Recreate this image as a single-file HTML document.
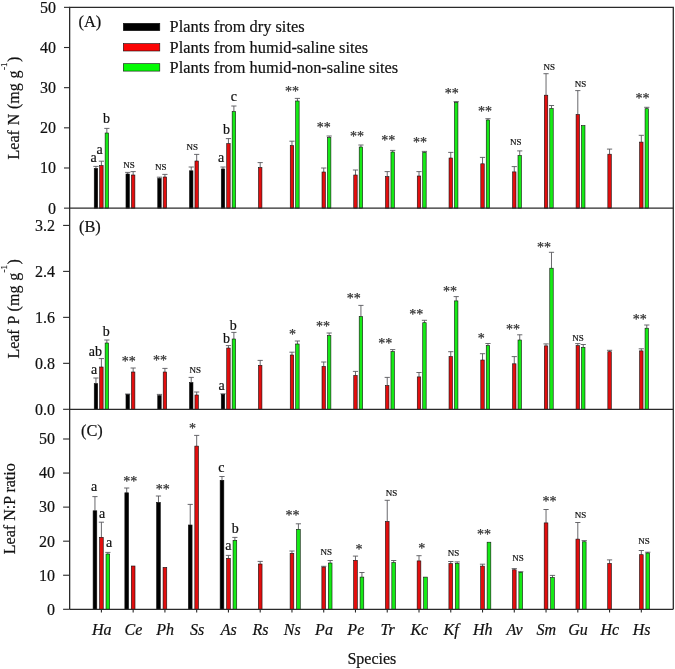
<!DOCTYPE html>
<html lang="en"><head><meta charset="utf-8"><title>Leaf N, P and N:P ratio by species</title>
<style>html,body{margin:0;padding:0;background:#fff}svg{display:block}text{font-family:"Liberation Serif","Times New Roman",serif;fill:#111;stroke:#111;stroke-width:.2}.t{font-size:16px}.lg{font-size:16.36px}.it{font-size:16px;font-style:italic}.l{font-size:14px}.n{font-size:9px}.s{font-size:14px;fill:#333;stroke:#333;stroke-width:.25}.ax{stroke:#2a2a2a;stroke-width:1.3;fill:none}.eb{stroke:#58585c;stroke-width:0.9;fill:none}.tk{stroke:#2a2a2a;stroke-width:1.1;fill:none}.b{stroke:#101010;stroke-width:0.6}</style></head><body>
<svg width="675" height="669" viewBox="0 0 675 669">
<rect width="675" height="669" fill="#fff"/>
<g id="panelA">
<path class="eb" d="M95.95 168.40V166.40M93.35 166.40H98.55"/>
<rect class="b" x="94.23" y="168.40" width="3.45" height="39.75" fill="#000000"/>
<path class="eb" d="M101.40 165.60V161.20M98.80 161.20H104.00"/>
<rect class="b" x="99.68" y="165.60" width="3.45" height="42.55" fill="#e20e0e"/>
<path class="eb" d="M106.85 133.00V128.40M104.25 128.40H109.45"/>
<rect class="b" x="105.13" y="133.00" width="3.45" height="75.15" fill="#16ea16"/>
<path class="eb" d="M127.71 174.00V172.40M125.11 172.40H130.31"/>
<rect class="b" x="125.98" y="174.00" width="3.45" height="34.15" fill="#000000"/>
<path class="eb" d="M133.16 175.00V171.60M130.56 171.60H135.76"/>
<rect class="b" x="131.44" y="175.00" width="3.45" height="33.15" fill="#e20e0e"/>
<path class="eb" d="M159.47 178.40V177.20M156.87 177.20H162.07"/>
<rect class="b" x="157.75" y="178.40" width="3.45" height="29.75" fill="#000000"/>
<path class="eb" d="M164.92 177.00V174.40M162.32 174.40H167.52"/>
<rect class="b" x="163.20" y="177.00" width="3.45" height="31.15" fill="#e20e0e"/>
<path class="eb" d="M191.23 170.80V167.00M188.63 167.00H193.83"/>
<rect class="b" x="189.51" y="170.80" width="3.45" height="37.35" fill="#000000"/>
<path class="eb" d="M196.68 161.00V154.40M194.08 154.40H199.28"/>
<rect class="b" x="194.96" y="161.00" width="3.45" height="47.15" fill="#e20e0e"/>
<path class="eb" d="M222.99 169.00V167.00M220.39 167.00H225.59"/>
<rect class="b" x="221.27" y="169.00" width="3.45" height="39.15" fill="#000000"/>
<path class="eb" d="M228.44 143.60V138.60M225.84 138.60H231.04"/>
<rect class="b" x="226.72" y="143.60" width="3.45" height="64.55" fill="#e20e0e"/>
<path class="eb" d="M233.89 111.60V106.00M231.29 106.00H236.49"/>
<rect class="b" x="232.16" y="111.60" width="3.45" height="96.55" fill="#16ea16"/>
<path class="eb" d="M260.20 167.60V162.60M257.60 162.60H262.80"/>
<rect class="b" x="258.48" y="167.60" width="3.45" height="40.55" fill="#e20e0e"/>
<path class="eb" d="M291.96 145.60V141.20M289.36 141.20H294.56"/>
<rect class="b" x="290.24" y="145.60" width="3.45" height="62.55" fill="#e20e0e"/>
<path class="eb" d="M297.41 101.00V98.40M294.81 98.40H300.01"/>
<rect class="b" x="295.69" y="101.00" width="3.45" height="107.15" fill="#16ea16"/>
<path class="eb" d="M323.72 172.00V168.00M321.12 168.00H326.32"/>
<rect class="b" x="322.00" y="172.00" width="3.45" height="36.15" fill="#e20e0e"/>
<path class="eb" d="M329.17 137.60V136.00M326.57 136.00H331.77"/>
<rect class="b" x="327.44" y="137.60" width="3.45" height="70.55" fill="#16ea16"/>
<path class="eb" d="M355.48 175.00V170.00M352.88 170.00H358.08"/>
<rect class="b" x="353.75" y="175.00" width="3.45" height="33.15" fill="#e20e0e"/>
<path class="eb" d="M360.93 147.00V145.00M358.33 145.00H363.53"/>
<rect class="b" x="359.20" y="147.00" width="3.45" height="61.15" fill="#16ea16"/>
<path class="eb" d="M387.24 176.60V171.60M384.64 171.60H389.84"/>
<rect class="b" x="385.51" y="176.60" width="3.45" height="31.55" fill="#e20e0e"/>
<path class="eb" d="M392.69 152.00V150.40M390.09 150.40H395.29"/>
<rect class="b" x="390.96" y="152.00" width="3.45" height="56.15" fill="#16ea16"/>
<path class="eb" d="M419.00 176.00V171.60M416.40 171.60H421.60"/>
<rect class="b" x="417.27" y="176.00" width="3.45" height="32.15" fill="#e20e0e"/>
<path class="eb" d="M424.45 152.40V151.40M421.85 151.40H427.05"/>
<rect class="b" x="422.72" y="152.40" width="3.45" height="55.75" fill="#16ea16"/>
<path class="eb" d="M450.76 158.00V152.40M448.16 152.40H453.36"/>
<rect class="b" x="449.03" y="158.00" width="3.45" height="50.15" fill="#e20e0e"/>
<path class="eb" d="M456.21 102.60V101.60M453.61 101.60H458.81"/>
<rect class="b" x="454.48" y="102.60" width="3.45" height="105.55" fill="#16ea16"/>
<path class="eb" d="M482.52 163.80V157.40M479.92 157.40H485.12"/>
<rect class="b" x="480.79" y="163.80" width="3.45" height="44.35" fill="#e20e0e"/>
<path class="eb" d="M487.97 120.00V118.70M485.37 118.70H490.57"/>
<rect class="b" x="486.24" y="120.00" width="3.45" height="88.15" fill="#16ea16"/>
<path class="eb" d="M514.28 171.90V166.60M511.68 166.60H516.88"/>
<rect class="b" x="512.55" y="171.90" width="3.45" height="36.25" fill="#e20e0e"/>
<path class="eb" d="M519.73 155.50V150.90M517.13 150.90H522.33"/>
<rect class="b" x="518.00" y="155.50" width="3.45" height="52.65" fill="#16ea16"/>
<path class="eb" d="M546.04 95.20V73.70M543.44 73.70H548.64"/>
<rect class="b" x="544.32" y="95.20" width="3.45" height="112.95" fill="#e20e0e"/>
<path class="eb" d="M551.49 108.50V105.50M548.89 105.50H554.09"/>
<rect class="b" x="549.77" y="108.50" width="3.45" height="99.65" fill="#16ea16"/>
<path class="eb" d="M577.80 114.50V90.60M575.20 90.60H580.40"/>
<rect class="b" x="576.08" y="114.50" width="3.45" height="93.65" fill="#e20e0e"/>
<rect class="b" x="581.53" y="125.60" width="3.45" height="82.55" fill="#16ea16"/>
<path class="eb" d="M609.56 154.20V149.10M606.96 149.10H612.16"/>
<rect class="b" x="607.84" y="154.20" width="3.45" height="53.95" fill="#e20e0e"/>
<path class="eb" d="M641.32 142.10V135.30M638.72 135.30H643.92"/>
<rect class="b" x="639.60" y="142.10" width="3.45" height="66.05" fill="#e20e0e"/>
<path class="eb" d="M646.77 108.70V107.30M644.17 107.30H649.37"/>
<rect class="b" x="645.05" y="108.70" width="3.45" height="99.45" fill="#16ea16"/>
</g>
<g id="panelB">
<path class="eb" d="M95.95 383.60V378.00M93.35 378.00H98.55"/>
<rect class="b" x="94.23" y="383.60" width="3.45" height="25.70" fill="#000000"/>
<path class="eb" d="M101.40 367.00V358.60M98.80 358.60H104.00"/>
<rect class="b" x="99.68" y="367.00" width="3.45" height="42.30" fill="#e20e0e"/>
<path class="eb" d="M106.85 343.00V340.00M104.25 340.00H109.45"/>
<rect class="b" x="105.13" y="343.00" width="3.45" height="66.30" fill="#16ea16"/>
<path class="eb" d="M127.71 394.60V394.00M125.11 394.00H130.31"/>
<rect class="b" x="125.98" y="394.60" width="3.45" height="14.70" fill="#000000"/>
<path class="eb" d="M133.16 372.00V368.00M130.56 368.00H135.76"/>
<rect class="b" x="131.44" y="372.00" width="3.45" height="37.30" fill="#e20e0e"/>
<path class="eb" d="M159.47 395.60V394.40M156.87 394.40H162.07"/>
<rect class="b" x="157.75" y="395.60" width="3.45" height="13.70" fill="#000000"/>
<path class="eb" d="M164.92 372.00V368.40M162.32 368.40H167.52"/>
<rect class="b" x="163.20" y="372.00" width="3.45" height="37.30" fill="#e20e0e"/>
<path class="eb" d="M191.23 382.60V377.40M188.63 377.40H193.83"/>
<rect class="b" x="189.51" y="382.60" width="3.45" height="26.70" fill="#000000"/>
<path class="eb" d="M196.68 395.00V392.00M194.08 392.00H199.28"/>
<rect class="b" x="194.96" y="395.00" width="3.45" height="14.30" fill="#e20e0e"/>
<path class="eb" d="M222.99 394.40V393.80M220.39 393.80H225.59"/>
<rect class="b" x="221.27" y="394.40" width="3.45" height="14.90" fill="#000000"/>
<path class="eb" d="M228.44 348.00V345.60M225.84 345.60H231.04"/>
<rect class="b" x="226.72" y="348.00" width="3.45" height="61.30" fill="#e20e0e"/>
<path class="eb" d="M233.89 339.00V332.40M231.29 332.40H236.49"/>
<rect class="b" x="232.16" y="339.00" width="3.45" height="70.30" fill="#16ea16"/>
<path class="eb" d="M260.20 365.40V360.40M257.60 360.40H262.80"/>
<rect class="b" x="258.48" y="365.40" width="3.45" height="43.90" fill="#e20e0e"/>
<path class="eb" d="M291.96 355.00V352.20M289.36 352.20H294.56"/>
<rect class="b" x="290.24" y="355.00" width="3.45" height="54.30" fill="#e20e0e"/>
<path class="eb" d="M297.41 344.00V341.00M294.81 341.00H300.01"/>
<rect class="b" x="295.69" y="344.00" width="3.45" height="65.30" fill="#16ea16"/>
<path class="eb" d="M323.72 366.40V362.00M321.12 362.00H326.32"/>
<rect class="b" x="322.00" y="366.40" width="3.45" height="42.90" fill="#e20e0e"/>
<path class="eb" d="M329.17 335.60V333.00M326.57 333.00H331.77"/>
<rect class="b" x="327.44" y="335.60" width="3.45" height="73.70" fill="#16ea16"/>
<path class="eb" d="M355.48 375.40V371.40M352.88 371.40H358.08"/>
<rect class="b" x="353.75" y="375.40" width="3.45" height="33.90" fill="#e20e0e"/>
<path class="eb" d="M360.93 316.60V305.40M358.33 305.40H363.53"/>
<rect class="b" x="359.20" y="316.60" width="3.45" height="92.70" fill="#16ea16"/>
<path class="eb" d="M387.24 385.60V377.40M384.64 377.40H389.84"/>
<rect class="b" x="385.51" y="385.60" width="3.45" height="23.70" fill="#e20e0e"/>
<path class="eb" d="M392.69 351.60V349.60M390.09 349.60H395.29"/>
<rect class="b" x="390.96" y="351.60" width="3.45" height="57.70" fill="#16ea16"/>
<path class="eb" d="M419.00 376.90V372.50M416.40 372.50H421.60"/>
<rect class="b" x="417.27" y="376.90" width="3.45" height="32.40" fill="#e20e0e"/>
<path class="eb" d="M424.45 322.70V320.30M421.85 320.30H427.05"/>
<rect class="b" x="422.72" y="322.70" width="3.45" height="86.60" fill="#16ea16"/>
<path class="eb" d="M450.76 356.60V351.70M448.16 351.70H453.36"/>
<rect class="b" x="449.03" y="356.60" width="3.45" height="52.70" fill="#e20e0e"/>
<path class="eb" d="M456.21 300.90V296.60M453.61 296.60H458.81"/>
<rect class="b" x="454.48" y="300.90" width="3.45" height="108.40" fill="#16ea16"/>
<path class="eb" d="M482.52 360.00V353.70M479.92 353.70H485.12"/>
<rect class="b" x="480.79" y="360.00" width="3.45" height="49.30" fill="#e20e0e"/>
<path class="eb" d="M487.97 345.60V343.50M485.37 343.50H490.57"/>
<rect class="b" x="486.24" y="345.60" width="3.45" height="63.70" fill="#16ea16"/>
<path class="eb" d="M514.28 363.80V356.60M511.68 356.60H516.88"/>
<rect class="b" x="512.55" y="363.80" width="3.45" height="45.50" fill="#e20e0e"/>
<path class="eb" d="M519.73 340.00V334.80M517.13 334.80H522.33"/>
<rect class="b" x="518.00" y="340.00" width="3.45" height="69.30" fill="#16ea16"/>
<path class="eb" d="M546.04 345.90V343.90M543.44 343.90H548.64"/>
<rect class="b" x="544.32" y="345.90" width="3.45" height="63.40" fill="#e20e0e"/>
<path class="eb" d="M551.49 268.20V252.30M548.89 252.30H554.09"/>
<rect class="b" x="549.77" y="268.20" width="3.45" height="141.10" fill="#16ea16"/>
<path class="eb" d="M577.80 345.60V343.60M575.20 343.60H580.40"/>
<rect class="b" x="576.08" y="345.60" width="3.45" height="63.70" fill="#e20e0e"/>
<path class="eb" d="M583.25 347.40V344.50M580.65 344.50H585.85"/>
<rect class="b" x="581.53" y="347.40" width="3.45" height="61.90" fill="#16ea16"/>
<path class="eb" d="M609.56 351.70V350.30M606.96 350.30H612.16"/>
<rect class="b" x="607.84" y="351.70" width="3.45" height="57.60" fill="#e20e0e"/>
<path class="eb" d="M641.32 350.90V348.80M638.72 348.80H643.92"/>
<rect class="b" x="639.60" y="350.90" width="3.45" height="58.40" fill="#e20e0e"/>
<path class="eb" d="M646.77 328.20V325.00M644.17 325.00H649.37"/>
<rect class="b" x="645.05" y="328.20" width="3.45" height="81.10" fill="#16ea16"/>
</g>
<g id="panelC">
<path class="eb" d="M94.95 510.80V496.60M92.35 496.60H97.55"/>
<rect class="b" x="93.10" y="510.80" width="3.7" height="98.50" fill="#000000"/>
<path class="eb" d="M101.40 537.30V522.20M98.80 522.20H104.00"/>
<rect class="b" x="99.55" y="537.30" width="3.7" height="72.00" fill="#e20e0e"/>
<path class="eb" d="M107.85 554.00V552.40M105.25 552.40H110.45"/>
<rect class="b" x="106.00" y="554.00" width="3.7" height="55.30" fill="#16ea16"/>
<path class="eb" d="M126.71 492.80V488.00M124.11 488.00H129.31"/>
<rect class="b" x="124.86" y="492.80" width="3.7" height="116.50" fill="#000000"/>
<rect class="b" x="131.31" y="566.00" width="3.7" height="43.30" fill="#e20e0e"/>
<path class="eb" d="M158.47 502.40V496.00M155.87 496.00H161.07"/>
<rect class="b" x="156.62" y="502.40" width="3.7" height="106.90" fill="#000000"/>
<rect class="b" x="163.07" y="567.40" width="3.7" height="41.90" fill="#e20e0e"/>
<path class="eb" d="M190.23 525.00V504.40M187.63 504.40H192.83"/>
<rect class="b" x="188.38" y="525.00" width="3.7" height="84.30" fill="#000000"/>
<path class="eb" d="M196.68 446.10V435.40M194.08 435.40H199.28"/>
<rect class="b" x="194.83" y="446.10" width="3.7" height="163.20" fill="#e20e0e"/>
<path class="eb" d="M221.99 480.30V476.50M219.39 476.50H224.59"/>
<rect class="b" x="220.14" y="480.30" width="3.7" height="129.00" fill="#000000"/>
<path class="eb" d="M228.44 558.30V555.40M225.84 555.40H231.04"/>
<rect class="b" x="226.59" y="558.30" width="3.7" height="51.00" fill="#e20e0e"/>
<path class="eb" d="M234.89 540.30V537.40M232.29 537.40H237.49"/>
<rect class="b" x="233.04" y="540.30" width="3.7" height="69.00" fill="#16ea16"/>
<path class="eb" d="M260.20 564.00V561.40M257.60 561.40H262.80"/>
<rect class="b" x="258.35" y="564.00" width="3.7" height="45.30" fill="#e20e0e"/>
<path class="eb" d="M291.96 553.30V551.00M289.36 551.00H294.56"/>
<rect class="b" x="290.11" y="553.30" width="3.7" height="56.00" fill="#e20e0e"/>
<path class="eb" d="M298.41 529.30V523.80M295.81 523.80H301.01"/>
<rect class="b" x="296.56" y="529.30" width="3.7" height="80.00" fill="#16ea16"/>
<path class="eb" d="M323.72 567.10V566.30M321.12 566.30H326.32"/>
<rect class="b" x="321.87" y="567.10" width="3.7" height="42.20" fill="#e20e0e"/>
<path class="eb" d="M330.17 563.00V560.50M327.57 560.50H332.77"/>
<rect class="b" x="328.32" y="563.00" width="3.7" height="46.30" fill="#16ea16"/>
<path class="eb" d="M355.48 560.30V556.10M352.88 556.10H358.08"/>
<rect class="b" x="353.63" y="560.30" width="3.7" height="49.00" fill="#e20e0e"/>
<path class="eb" d="M361.93 577.10V572.50M359.33 572.50H364.53"/>
<rect class="b" x="360.08" y="577.10" width="3.7" height="32.20" fill="#16ea16"/>
<path class="eb" d="M387.24 521.50V500.30M384.64 500.30H389.84"/>
<rect class="b" x="385.39" y="521.50" width="3.7" height="87.80" fill="#e20e0e"/>
<path class="eb" d="M393.69 562.60V560.50M391.09 560.50H396.29"/>
<rect class="b" x="391.84" y="562.60" width="3.7" height="46.70" fill="#16ea16"/>
<path class="eb" d="M419.00 560.90V555.70M416.40 555.70H421.60"/>
<rect class="b" x="417.15" y="560.90" width="3.7" height="48.40" fill="#e20e0e"/>
<rect class="b" x="423.60" y="577.10" width="3.7" height="32.20" fill="#16ea16"/>
<path class="eb" d="M450.76 563.60V561.50M448.16 561.50H453.36"/>
<rect class="b" x="448.91" y="563.60" width="3.7" height="45.70" fill="#e20e0e"/>
<path class="eb" d="M457.21 563.40V561.90M454.61 561.90H459.81"/>
<rect class="b" x="455.36" y="563.40" width="3.7" height="45.90" fill="#16ea16"/>
<path class="eb" d="M482.52 566.10V564.20M479.92 564.20H485.12"/>
<rect class="b" x="480.67" y="566.10" width="3.7" height="43.20" fill="#e20e0e"/>
<rect class="b" x="487.12" y="542.20" width="3.7" height="67.10" fill="#16ea16"/>
<path class="eb" d="M514.28 569.80V568.60M511.68 568.60H516.88"/>
<rect class="b" x="512.43" y="569.80" width="3.7" height="39.50" fill="#e20e0e"/>
<path class="eb" d="M520.73 572.30V571.70M518.13 571.70H523.33"/>
<rect class="b" x="518.88" y="572.30" width="3.7" height="37.00" fill="#16ea16"/>
<path class="eb" d="M546.04 522.90V509.50M543.44 509.50H548.64"/>
<rect class="b" x="544.19" y="522.90" width="3.7" height="86.40" fill="#e20e0e"/>
<path class="eb" d="M552.49 577.50V575.40M549.89 575.40H555.09"/>
<rect class="b" x="550.64" y="577.50" width="3.7" height="31.80" fill="#16ea16"/>
<path class="eb" d="M577.80 539.10V522.50M575.20 522.50H580.40"/>
<rect class="b" x="575.95" y="539.10" width="3.7" height="70.20" fill="#e20e0e"/>
<path class="eb" d="M584.25 541.80V540.60M581.65 540.60H586.85"/>
<rect class="b" x="582.40" y="541.80" width="3.7" height="67.50" fill="#16ea16"/>
<path class="eb" d="M609.56 563.40V559.90M606.96 559.90H612.16"/>
<rect class="b" x="607.71" y="563.40" width="3.7" height="45.90" fill="#e20e0e"/>
<path class="eb" d="M641.32 554.70V550.50M638.72 550.50H643.92"/>
<rect class="b" x="639.47" y="554.70" width="3.7" height="54.60" fill="#e20e0e"/>
<path class="eb" d="M647.77 553.00V552.20M645.17 552.20H650.37"/>
<rect class="b" x="645.92" y="553.00" width="3.7" height="56.30" fill="#16ea16"/>
</g>
<path class="ax" d="M69.65 609.3V7.35H673.3V609.3"/>
<path class="ax" d="M69.65 208.15H673.3"/>
<path class="ax" d="M69.65 409.3H673.3"/>
<path class="ax" d="M69.65 609.3H673.3"/>
<path class="tk" d="M64 208.15H69.65"/>
<path class="tk" d="M64 167.99H69.65"/>
<path class="tk" d="M64 127.83H69.65"/>
<path class="tk" d="M64 87.67H69.65"/>
<path class="tk" d="M64 47.51H69.65"/>
<path class="tk" d="M64 7.35H69.65"/>
<text class="t" x="56" y="213.5" text-anchor="end">0</text>
<text class="t" x="56" y="173.3" text-anchor="end">10</text>
<text class="t" x="56" y="133.1" text-anchor="end">20</text>
<text class="t" x="56" y="93.0" text-anchor="end">30</text>
<text class="t" x="56" y="52.8" text-anchor="end">40</text>
<text class="t" x="56" y="12.7" text-anchor="end">50</text>
<path class="tk" d="M63.1 409.30H69.65"/>
<path class="tk" d="M63.1 363.33H69.65"/>
<path class="tk" d="M63.1 317.36H69.65"/>
<path class="tk" d="M63.1 271.39H69.65"/>
<path class="tk" d="M63.1 225.42H69.65"/>
<text class="t" x="55" y="414.6" text-anchor="end">0.0</text>
<text class="t" x="55" y="368.6" text-anchor="end">0.8</text>
<text class="t" x="55" y="322.7" text-anchor="end">1.6</text>
<text class="t" x="55" y="276.7" text-anchor="end">2.4</text>
<text class="t" x="55" y="230.7" text-anchor="end">3.2</text>
<path class="tk" d="M63.1 609.30H69.65"/>
<path class="tk" d="M63.1 575.24H69.65"/>
<path class="tk" d="M63.1 541.18H69.65"/>
<path class="tk" d="M63.1 507.12H69.65"/>
<path class="tk" d="M63.1 473.06H69.65"/>
<path class="tk" d="M63.1 439.00H69.65"/>
<text class="t" x="55" y="614.6" text-anchor="end">0</text>
<text class="t" x="55" y="580.5" text-anchor="end">10</text>
<text class="t" x="55" y="546.5" text-anchor="end">20</text>
<text class="t" x="55" y="512.4" text-anchor="end">30</text>
<text class="t" x="55" y="478.4" text-anchor="end">40</text>
<text class="t" x="55" y="444.3" text-anchor="end">50</text>
<path class="tk" d="M101.40 609.3v3.2"/>
<text class="it" x="101.7" y="635.2" text-anchor="middle">Ha</text>
<path class="tk" d="M133.16 609.3v3.2"/>
<text class="it" x="133.5" y="635.2" text-anchor="middle">Ce</text>
<path class="tk" d="M164.92 609.3v3.2"/>
<text class="it" x="165.2" y="635.2" text-anchor="middle">Ph</text>
<path class="tk" d="M196.68 609.3v3.2"/>
<text class="it" x="197.0" y="635.2" text-anchor="middle">Ss</text>
<path class="tk" d="M228.44 609.3v3.2"/>
<text class="it" x="228.7" y="635.2" text-anchor="middle">As</text>
<path class="tk" d="M260.20 609.3v3.2"/>
<text class="it" x="260.5" y="635.2" text-anchor="middle">Rs</text>
<path class="tk" d="M291.96 609.3v3.2"/>
<text class="it" x="292.3" y="635.2" text-anchor="middle">Ns</text>
<path class="tk" d="M323.72 609.3v3.2"/>
<text class="it" x="324.0" y="635.2" text-anchor="middle">Pa</text>
<path class="tk" d="M355.48 609.3v3.2"/>
<text class="it" x="355.8" y="635.2" text-anchor="middle">Pe</text>
<path class="tk" d="M387.24 609.3v3.2"/>
<text class="it" x="387.5" y="635.2" text-anchor="middle">Tr</text>
<path class="tk" d="M419.00 609.3v3.2"/>
<text class="it" x="419.3" y="635.2" text-anchor="middle">Kc</text>
<path class="tk" d="M450.76 609.3v3.2"/>
<text class="it" x="451.1" y="635.2" text-anchor="middle">Kf</text>
<path class="tk" d="M482.52 609.3v3.2"/>
<text class="it" x="482.8" y="635.2" text-anchor="middle">Hh</text>
<path class="tk" d="M514.28 609.3v3.2"/>
<text class="it" x="514.6" y="635.2" text-anchor="middle">Av</text>
<path class="tk" d="M546.04 609.3v3.2"/>
<text class="it" x="546.3" y="635.2" text-anchor="middle">Sm</text>
<path class="tk" d="M577.80 609.3v3.2"/>
<text class="it" x="578.1" y="635.2" text-anchor="middle">Gu</text>
<path class="tk" d="M609.56 609.3v3.2"/>
<text class="it" x="609.9" y="635.2" text-anchor="middle">Hc</text>
<path class="tk" d="M641.32 609.3v3.2"/>
<text class="it" x="641.6" y="635.2" text-anchor="middle">Hs</text>
<text class="t" x="371.9" y="664" text-anchor="middle">Species</text>
<text class="lg" x="78.5" y="27.2">(A)</text>
<text class="lg" x="79" y="232.4">(B)</text>
<text class="lg" x="81" y="435.6">(C)</text>
<text class="t" transform="translate(19.4 108.1) rotate(-90)" text-anchor="middle" word-spacing="0.8">Leaf N (mg g<tspan dy="-12.4" dx="0.3" font-size="9">-1</tspan><tspan dy="12.4" dx="0.5">)</tspan></text>
<text class="t" transform="translate(19.4 308.9) rotate(-90)" text-anchor="middle" word-spacing="0.8">Leaf P (mg g<tspan dy="-12.4" dx="0.3" font-size="9">-1</tspan><tspan dy="12.4" dx="0.5">)</tspan></text>
<text class="t" transform="translate(15.3 508.7) rotate(-90)" text-anchor="middle">Leaf N:P ratio</text>
<rect class="b" x="123.3" y="23.3" width="36.5" height="7.4" fill="#000"/>
<text class="lg" x="169.6" y="32.3">Plants from dry sites</text>
<rect class="b" x="123.3" y="43.6" width="36.5" height="7.4" fill="#fb0404"/>
<text class="lg" x="169.6" y="52.6">Plants from humid-saline sites</text>
<rect class="b" x="123.3" y="63.7" width="36.5" height="7.4" fill="#04fb04"/>
<text class="lg" x="169.6" y="72.7">Plants from humid-non-saline sites</text>
<text class="l" x="93.5" y="161.6" text-anchor="middle">a</text>
<text class="l" x="99.5" y="154.0" text-anchor="middle">a</text>
<text class="l" x="106.6" y="123.4" text-anchor="middle">b</text>
<text class="n" x="129.1" y="167.6" text-anchor="middle">NS</text>
<text class="n" x="160.8" y="169.6" text-anchor="middle">NS</text>
<text class="n" x="192.3" y="150.4" text-anchor="middle">NS</text>
<text class="l" x="221.0" y="161.6" text-anchor="middle">a</text>
<text class="l" x="226.4" y="134.0" text-anchor="middle">b</text>
<text class="l" x="233.8" y="101.0" text-anchor="middle">c</text>
<text class="s" x="292.0" y="95.9" text-anchor="middle">**</text>
<text class="s" x="323.8" y="132.3" text-anchor="middle">**</text>
<text class="s" x="357.0" y="140.9" text-anchor="middle">**</text>
<text class="s" x="388.3" y="145.3" text-anchor="middle">**</text>
<text class="s" x="420.0" y="147.3" text-anchor="middle">**</text>
<text class="s" x="451.7" y="98.1" text-anchor="middle">**</text>
<text class="s" x="485.0" y="116.3" text-anchor="middle">**</text>
<text class="n" x="515.8" y="145.0" text-anchor="middle">NS</text>
<text class="n" x="549.2" y="69.8" text-anchor="middle">NS</text>
<text class="n" x="580.6" y="86.6" text-anchor="middle">NS</text>
<text class="s" x="642.5" y="102.9" text-anchor="middle">**</text>
<text class="l" x="94.0" y="374.4" text-anchor="middle">a</text>
<text class="l" x="95.3" y="355.6" text-anchor="middle">ab</text>
<text class="l" x="106.3" y="336.4" text-anchor="middle">b</text>
<text class="s" x="128.8" y="365.9" text-anchor="middle">**</text>
<text class="s" x="160.0" y="365.3" text-anchor="middle">**</text>
<text class="n" x="195.2" y="373.0" text-anchor="middle">NS</text>
<text class="l" x="221.5" y="390.4" text-anchor="middle">a</text>
<text class="l" x="226.6" y="342.6" text-anchor="middle">b</text>
<text class="l" x="233.2" y="330.0" text-anchor="middle">b</text>
<text class="s" x="292.4" y="338.9" text-anchor="middle">*</text>
<text class="s" x="323.0" y="330.5" text-anchor="middle">**</text>
<text class="s" x="353.8" y="302.9" text-anchor="middle">**</text>
<text class="s" x="385.3" y="348.1" text-anchor="middle">**</text>
<text class="s" x="416.3" y="318.6" text-anchor="middle">**</text>
<text class="s" x="449.9" y="295.9" text-anchor="middle">**</text>
<text class="s" x="481.2" y="342.6" text-anchor="middle">*</text>
<text class="s" x="512.9" y="333.9" text-anchor="middle">**</text>
<text class="s" x="544.0" y="251.9" text-anchor="middle">**</text>
<text class="n" x="578.1" y="341.3" text-anchor="middle">NS</text>
<text class="s" x="639.8" y="324.4" text-anchor="middle">**</text>
<text class="l" x="94.2" y="491.0" text-anchor="middle">a</text>
<text class="l" x="102.0" y="517.6" text-anchor="middle">a</text>
<text class="l" x="109.2" y="547.4" text-anchor="middle">a</text>
<text class="s" x="130.2" y="485.9" text-anchor="middle">**</text>
<text class="s" x="162.7" y="493.9" text-anchor="middle">**</text>
<text class="s" x="192.5" y="433.3" text-anchor="middle">*</text>
<text class="l" x="221.3" y="471.6" text-anchor="middle">c</text>
<text class="l" x="228.3" y="550.4" text-anchor="middle">a</text>
<text class="l" x="235.3" y="532.5" text-anchor="middle">b</text>
<text class="s" x="292.5" y="520.2" text-anchor="middle">**</text>
<text class="n" x="326.2" y="555.3" text-anchor="middle">NS</text>
<text class="s" x="359.1" y="553.7" text-anchor="middle">*</text>
<text class="n" x="391.4" y="495.6" text-anchor="middle">NS</text>
<text class="s" x="421.7" y="553.3" text-anchor="middle">*</text>
<text class="n" x="453.5" y="555.9" text-anchor="middle">NS</text>
<text class="s" x="483.9" y="539.2" text-anchor="middle">**</text>
<text class="n" x="518.0" y="561.3" text-anchor="middle">NS</text>
<text class="s" x="549.5" y="506.2" text-anchor="middle">**</text>
<text class="n" x="580.6" y="518.4" text-anchor="middle">NS</text>
<text class="n" x="644.1" y="543.9" text-anchor="middle">NS</text>
</svg></body></html>
